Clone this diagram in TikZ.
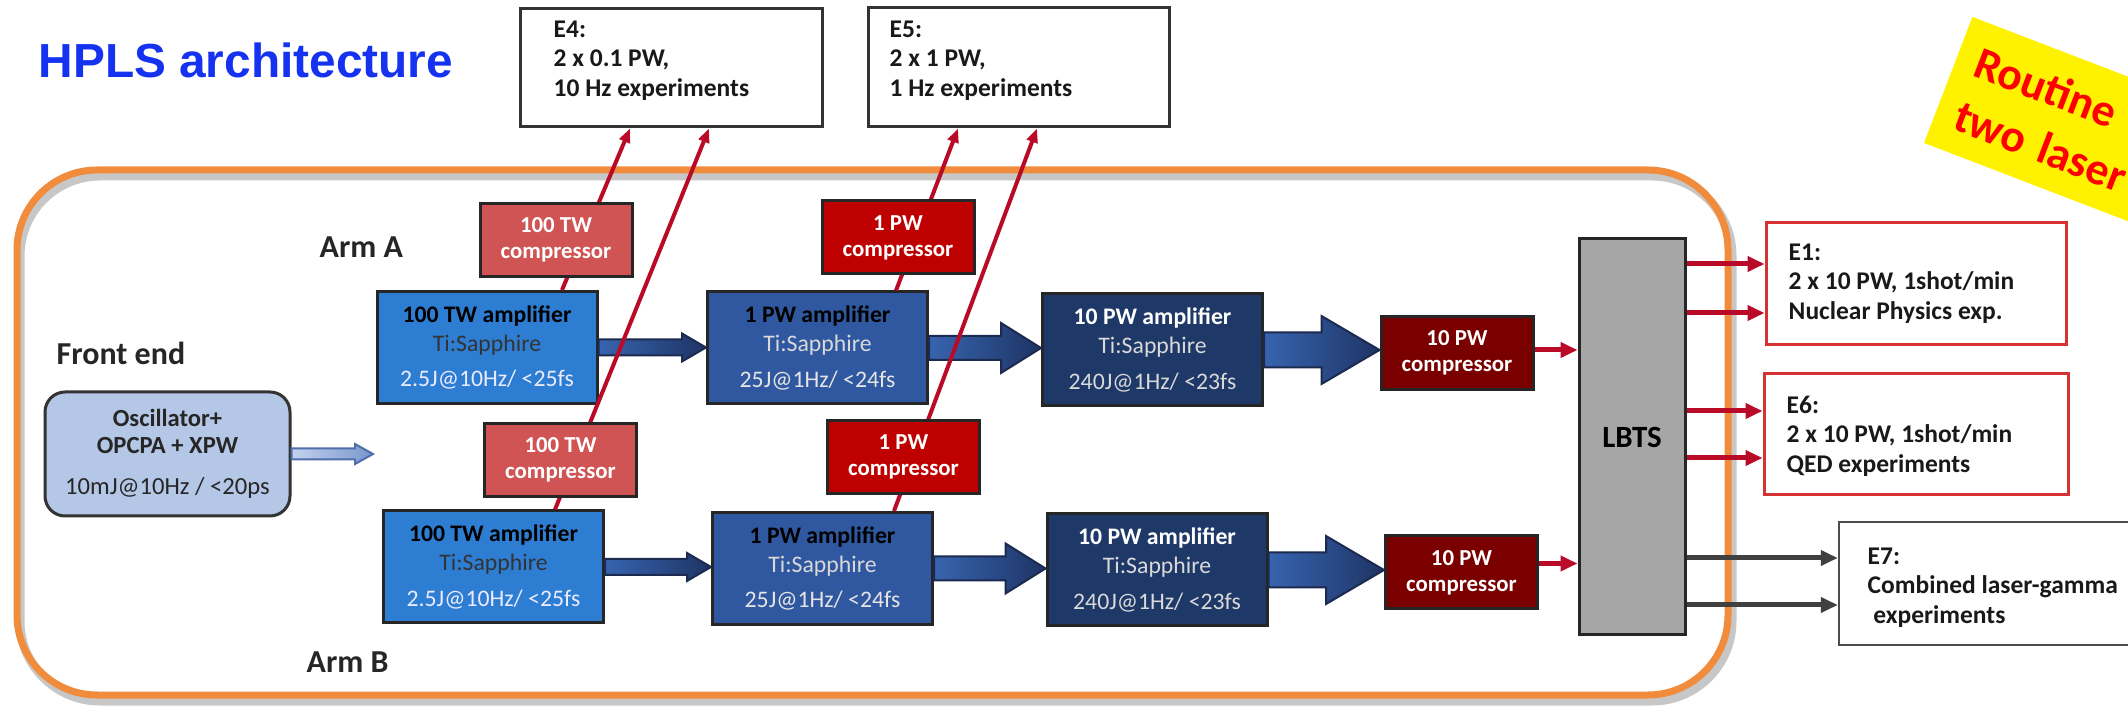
\documentclass[tikz,border=0pt]{standalone}
\usepackage{fontspec}
\setmainfont{Carlito}
\newfontfamily\titlefont{Liberation Sans}
\usetikzlibrary{arrows.meta,calc}

\definecolor{hplsblue}{RGB}{20,50,240}
\definecolor{frameorange}{RGB}{240,140,60}
\definecolor{oscfill}{RGB}{180,199,231}
\definecolor{ampTW}{RGB}{45,125,210}
\definecolor{ampPW}{RGB}{48,88,160}
\definecolor{ampTEN}{RGB}{30,56,104}
\definecolor{compTW}{RGB}{208,84,84}
\definecolor{compPW}{RGB}{190,0,0}
\definecolor{compTEN}{RGB}{122,0,0}
\definecolor{beamred}{RGB}{185,10,40}
\definecolor{lbtsgray}{RGB}{166,166,166}
\definecolor{ebred}{RGB}{215,50,50}
\definecolor{arrowL}{RGB}{55,100,175}
\definecolor{arrowR}{RGB}{30,52,100}
\definecolor{arrowEdge}{RGB}{28,42,80}
\definecolor{oscArrowL}{RGB}{195,210,238}
\definecolor{oscArrowR}{RGB}{120,150,205}
\definecolor{oscArrowEdge}{RGB}{80,110,170}

% block arrow: [style]{from}{tip}{half body}{half head}{head length}
\newcommand{\blockarr}[6][blockarrow]{%
  \shadedraw[#1] (#2) -- ($(#2)+(0,-#4)$) -- ($(#3)+(-#6,-#4)$) -- ($(#3)+(-#6,-#5)$)
    -- (#3) -- ($(#3)+(-#6,#5)$) -- ($(#3)+(-#6,#4)$) -- ($(#2)+(0,#4)$) -- cycle;}

\begin{document}
\begin{tikzpicture}[x=0.1mm, y=-0.1mm,
  amp/.style={draw=black!85, line width=0.3mm, minimum width=22mm, minimum height=11.2mm,
    align=center, inner sep=0, font=\fontsize{6.75}{8.25}\selectfont},
  comp/.style={draw=black!85, line width=0.3mm, minimum width=15.2mm, minimum height=7.3mm,
    align=center, inner sep=0, text=white, font=\bfseries\fontsize{6.5}{7.4}\selectfont},
  ebox/.style={draw=black!80, line width=0.3mm, fill=white, inner sep=0},
  etext/.style={anchor=north west, align=left, inner sep=0, text=black!90,
    font=\bfseries\fontsize{7.25}{8.4}\selectfont},
  armlabel/.style={anchor=west, inner sep=0, text=black!85,
    font=\bfseries\fontsize{9.1}{11}\selectfont},
  blockarrow/.style={left color=arrowL, right color=arrowR, draw=arrowEdge, line width=0.2mm},
  oscarrow/.style={left color=oscArrowL, right color=oscArrowR, draw=oscArrowEdge, line width=0.2mm},
  beam/.style={draw=beamred, line width=0.4mm, -{Triangle[length=1.4mm,width=1.1mm]}},
  hbeam/.style={draw=beamred, line width=0.5mm, -{Triangle[length=1.7mm,width=1.5mm]}},
  gbeam/.style={hbeam, draw=black!75}]

  \useasboundingbox (0,0) rectangle (2128,713);
  \clip (0,0) rectangle (2128,713);
  \fill[white] (0,0) rectangle (2128,713);

  % --- 1. Frame and title ---
  \draw[line width=0.9mm, black!22, rounded corners=8mm] (20,176) rectangle (1732,701);
  \draw[line width=0.7mm, frameorange, rounded corners=8mm] (17,170) rectangle (1728,695);
  \node[anchor=base west, inner sep=0, text=hplsblue,
    font=\titlefont\bfseries\fontsize{13.6}{16}\selectfont] (title) at (38,78) {HPLS architecture};

  % --- 2. Experiment areas ---
  \node[ebox, minimum width=30.2mm, minimum height=11.8mm] (e4) at (671,68) {};
  \node[etext] (e4txt) at (553,20) {E4:\\2 x 0.1 PW,\\10 Hz experiments};
  \node[ebox, minimum width=30.1mm, minimum height=11.9mm] (e5) at (1018.5,67.5) {};
  \node[etext] (e5txt) at (889,20) {E5:\\2 x 1 PW,\\1 Hz experiments};
  \node[ebox, draw=ebred, minimum width=30mm, minimum height=12.2mm] (e1) at (1916,284) {};
  \node[etext] (e1txt) at (1788,243) {E1:\\2 x 10 PW, 1shot/min\\Nuclear Physics exp.};
  \node[ebox, draw=ebred, minimum width=30.4mm, minimum height=12.1mm] (e6) at (1916,434.5) {};
  \node[etext] (e6txt) at (1786,395) {E6:\\2 x 10 PW, 1shot/min\\QED experiments};
  \node[ebox, draw=black!70, line width=0.25mm, minimum width=31.2mm, minimum height=12.3mm] (e7) at (1995,583.5) {};
  \node[etext] (e7txt) at (1867,547) {E7:\\Combined laser-gamma\\\ experiments};

  % sticker
  \node[anchor=north west, rotate=-21, fill=yellow, text=red, align=left, text width=29mm,
    minimum height=13.5mm, inner xsep=2mm, inner ysep=0,
    font=\bfseries\fontsize{13}{16.2}\selectfont] (routine) at (1972,16) {Routine\\two laser};

  % --- 3. Amplifier chains ---
  \node[draw=black!80, line width=0.3mm, fill=oscfill, rounded corners=2mm, minimum width=24.5mm,
    minimum height=12.4mm, align=center, inner sep=0, text=black!85,
    font=\fontsize{7}{7.7}\selectfont] (osc) at (167.5,454)
    {{\bfseries Oscillator+}\\{\bfseries OPCPA + XPW}\\[1.4mm]10mJ@10Hz / <20ps};
  \coordinate (frontTip) at (373,454);

  \node[amp, fill=ampTW] (amp100A) at (487,347.5)
    {{\bfseries 100 TW amplifier}\\\textcolor{black!80}{Ti:Sapphire}\\[0.7mm]\textcolor{white!92!blue}{2.5J@10Hz/ <25fs}};
  \node[amp, fill=ampPW] (amp1A) at (817.5,348)
    {{\bfseries 1 PW amplifier}\\\textcolor{black!15}{Ti:Sapphire}\\[0.7mm]\textcolor{black!10}{25J@1Hz/ <24fs}};
  \node[amp, fill=ampTEN, text=white] (amp10A) at (1152.5,350)
    {{\bfseries 10 PW amplifier}\\\textcolor{black!15}{Ti:Sapphire}\\[0.7mm]\textcolor{black!15}{240J@1Hz/ <23fs}};
  \node[amp, fill=ampTW] (amp100B) at (493.5,567)
    {{\bfseries 100 TW amplifier}\\\textcolor{black!80}{Ti:Sapphire}\\[0.7mm]\textcolor{white!92!blue}{2.5J@10Hz/ <25fs}};
  \node[amp, fill=ampPW] (amp1B) at (822.5,568.5)
    {{\bfseries 1 PW amplifier}\\\textcolor{black!15}{Ti:Sapphire}\\[0.7mm]\textcolor{black!10}{25J@1Hz/ <24fs}};
  \node[amp, fill=ampTEN, text=white] (amp10B) at (1157,570)
    {{\bfseries 10 PW amplifier}\\\textcolor{black!15}{Ti:Sapphire}\\[0.7mm]\textcolor{black!15}{240J@1Hz/ <23fs}};

  \node[comp, fill=compTEN] (comp10A) at (1457,353) {10 PW\\compressor};
  \node[comp, fill=compTEN] (comp10B) at (1461.5,572.5) {10 PW\\compressor};

  % block arrows between stages
  \coordinate (tipA1) at (amp1A.west |- amp100A.east);
  \coordinate (tipA2) at (amp10A.west |- amp1A.east);
  \coordinate (tipA3) at (comp10A.west |- amp10A.east);
  \coordinate (tipB1) at (amp1B.west |- amp100B.east);
  \coordinate (tipB2) at (amp10B.west |- amp1B.east);
  \coordinate (tipB3) at (comp10B.west |- amp10B.east);
  \blockarr[oscarrow]{osc.east}{frontTip}{5.5}{10}{18}
  \blockarr{amp100A.east}{tipA1}{8}{14}{24}
  \blockarr{amp1A.east}{tipA2}{12}{25}{40}
  \blockarr{amp10A.east}{tipA3}{17.5}{34}{58}
  \blockarr{amp100B.east}{tipB1}{8}{14}{24}
  \blockarr{amp1B.east}{tipB2}{12}{25}{40}
  \blockarr{amp10B.east}{tipB3}{17.5}{34}{58}

  % --- 4. Beams to E4 / E5 and their compressors ---
  \draw[beam] ($(amp100A.north)+(75,0)$) -- ($(e4.south)+(-41,0)$);
  \draw[beam] ($(amp100B.north)+(61.5,0)$) -- ($(e4.south)+(38,0)$);
  \draw[beam] ($(amp1A.north)+(78.5,0)$) -- ($(e5.south)+(-60.5,0)$);
  \draw[beam] ($(amp1B.north)+(71.5,0)$) -- ($(e5.south)+(18.5,0)$);

  \node[comp, fill=compTW] (comp100A) at (556,240) {100 TW\\compressor};
  \node[comp, fill=compTW] (comp100B) at (560.5,460) {100 TW\\compressor};
  \node[comp, fill=compPW] (comp1A) at (898,237.5) {1 PW\\compressor};
  \node[comp, fill=compPW] (comp1B) at (903.5,457) {1 PW\\compressor};

  % --- 5. Beam transport ---
  \node[draw=black!85, line width=0.3mm, fill=lbtsgray, minimum width=10.6mm, minimum height=39.6mm,
    inner sep=0, font=\bfseries\fontsize{8.8}{10}\selectfont] (lbts) at (1632,437) {LBTS};
  \coordinate (outA) at ($(comp10A.east)+(0,-3)$);
  \coordinate (outB) at ($(comp10B.east)+(0,-9)$);
  \draw[hbeam] (outA) -- (outA -| lbts.west);
  \draw[hbeam] (outB) -- (outB -| lbts.west);

  \foreach \ex/\da/\db/\st in {e1/-20/29/hbeam, e6/-23.5/23.5/hbeam, e7/-25.5/21.5/gbeam} {
    \path ($(\ex.west)+(0,\da)$) coordinate (\ex-a) ($(\ex.west)+(0,\db)$) coordinate (\ex-b);
    \draw[\st] (lbts.east |- \ex-a) -- (\ex-a);
    \draw[\st] (lbts.east |- \ex-b) -- (\ex-b);
  }

  % --- 6. Labels ---
  \node[armlabel] (armA) at (319,247) {Arm A};
  \node[armlabel] (frontEnd) at (56,353) {Front end};
  \node[armlabel] (armB) at (306,662) {Arm B};

\end{tikzpicture}
\end{document}
